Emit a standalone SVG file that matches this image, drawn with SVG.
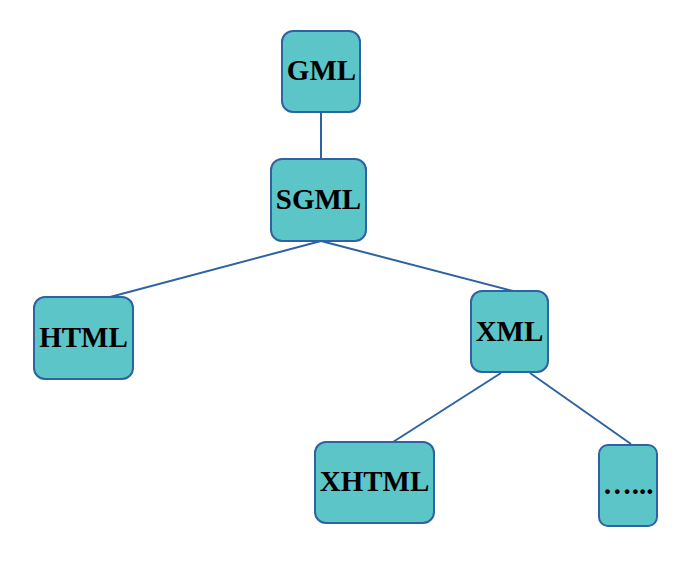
<svg xmlns="http://www.w3.org/2000/svg" width="689" height="562" viewBox="0 0 689 562">
<style>
.n{fill:#5BC5C8;stroke:#2F62A3;stroke-width:2}
.t{font-family:"Liberation Serif",serif;font-weight:bold;font-size:29px;fill:#000;text-anchor:middle}
.c line{stroke:#2F62A3;stroke-width:2}
</style>
<rect width="689" height="562" fill="#fff"/>
<g class="c" id="connectors">
<line x1="321" y1="112" x2="321" y2="159"/>
<line x1="321" y1="241" x2="110" y2="297"/>
<line x1="321" y1="241" x2="513" y2="291"/>
<line x1="501" y1="373" x2="393" y2="442"/>
<line x1="530" y1="373" x2="631" y2="444"/>
</g>
<g id="gml"><rect class="n" x="282" y="31" width="78" height="81" rx="11"/><text class="t" x="321.5" y="80">GML</text></g>
<g id="sgml"><rect class="n" x="271" y="159" width="95" height="82" rx="11"/><text class="t" x="318.5" y="209">SGML</text></g>
<g id="html"><rect class="n" x="34" y="297" width="99" height="82" rx="11"/><text class="t" x="83.5" y="347">HTML</text></g>
<g id="xml"><rect class="n" x="471" y="291" width="77" height="81" rx="11"/><text class="t" x="509.5" y="341">XML</text></g>
<g id="xhtml"><rect class="n" x="315" y="442" width="119" height="81" rx="11"/><text class="t" x="374.5" y="491">XHTML</text></g>
<g id="more"><rect class="n" x="599" y="445" width="58" height="81" rx="9"/><text class="t" x="628" y="494">…...</text></g>
</svg>
